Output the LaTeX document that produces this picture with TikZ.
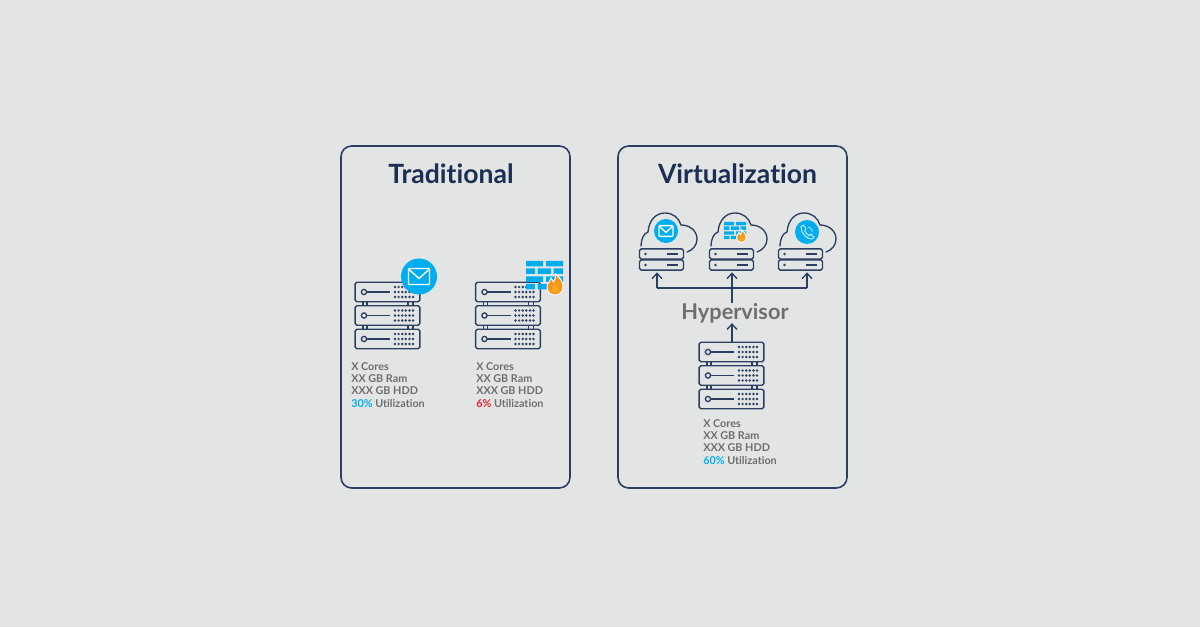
\documentclass[tikz,border=0pt]{standalone}
\usepackage{fontspec}
\setmainfont[Ligatures=NoCommon]{Lato}
\usetikzlibrary{arrows.meta}
\definecolor{bgc}{HTML}{E3E5E4}
\definecolor{navy}{HTML}{2B3F63}
\definecolor{titlec}{HTML}{1B2F55}
\definecolor{sky}{HTML}{00AEEF}
\definecolor{flame}{HTML}{F7941D}
\definecolor{greyt}{HTML}{6D6E71}
\definecolor{hot}{HTML}{ED1C24}
\tikzset{
  x=0.75pt,y=-0.75pt,
  card/.style={draw=navy,line width=1.2pt,rounded corners=8pt,minimum width=171.75pt,minimum height=256.5pt,inner sep=0pt},
  title/.style={font=\fontsize{19.9pt}{22pt}\selectfont\bfseries,text=titlec,inner sep=0pt},
  spec/.style={font=\fontsize{8.1pt}{9.3pt}\selectfont\bfseries,text=greyt,align=left,anchor=north west,inner sep=0pt},
  hv/.style={font=\fontsize{16.3pt}{18pt}\selectfont\bfseries,text=greyt,inner sep=0pt},
  unit/.style={draw=navy,line width=1.05pt,rounded corners=1.3pt,minimum width=48.6pt,inner sep=0pt,fill=none},
  unitbig/.style={unit,minimum height=14.6pt},
  unitsmall/.style={unit,minimum width=33pt,minimum height=7.6pt},
  detail/.style={draw=navy,line width=1pt},
  arr/.style={draw=navy,line width=1pt,-{Straight Barb[length=4pt,width=7.5pt,line width=1pt]}},
  plain/.style={draw=navy,line width=1pt},
  rack/.pic={
    \node[unitbig] (a) at (32.5,10) {};
    \node[unitbig] (b) at (32.5,33.5) {};
    \node[unitbig] (c) at (32.5,57) {};
    \foreach \yy in {10,33.5,57}{
      \draw[detail] (9,\yy) circle (2.6);
      \draw[detail] (11.6,\yy) -- (35,\yy);
      \foreach \ii in {0,1,2,3,4,5}\foreach \jj in {-5,0,5}
        \fill[navy] ({40+\ii*3.6},\yy+\jj) circle (1.35);
    }
    \foreach \xx in {8,12,53,58}{
      \draw[detail] (\xx,20) -- (\xx,23.5);
      \draw[detail] (\xx,43.5) -- (\xx,47);
    }
  },
  miniserver/.pic={
    \node[unitsmall] (a) at (22.5,5) {};
    \node[unitsmall] (b) at (22.5,16) {};
    \foreach \yy in {5,16}{
      \fill[navy] (6.5,\yy) circle (1.3);
      \draw[detail,line width=1.2pt] (28,\yy) -- (39,\yy);
    }
  },
  cloudline/.pic={
    \draw[plain,line cap=round] (0,33) .. controls (0,26) and (3,20) .. (7,19)
      .. controls (8,7) and (15,0) .. (24,0)
      .. controls (32,0) and (38,5) .. (40,12)
      .. controls (49,12) and (56,18) .. (56,26)
      .. controls (56,32) and (52,37) .. (46,39);
  },
  mailbadge/.pic={
    \fill[sky] (0,0) circle (18);
    \draw[white,line width=1pt,rounded corners=0.6pt] (-10.5,-8) rectangle (10.5,8);
    \draw[white,line width=1pt] (-10,-7) -- (0,2) -- (10,-7);
  },
  phonebadge/.pic={
    \fill[sky] (0,0) circle (12);
    \draw[white,line width=0.55pt,line join=round]
      (-6,-5.5) -- (-3.6,-7) -- (-1,-3) -- (-2.4,-1.2)
      .. controls (-1.4,1) and (0.8,3) .. (2.4,3.6)
      -- (4,2) -- (7,5.2) -- (5,7)
      .. controls (0,7.5) and (-6.5,1) .. (-6,-5.5) -- cycle;
    \draw[white,line width=0.45pt] (1,-5) .. controls (3.5,-4.5) and (5,-3) .. (5.5,-0.5);
  },
  firewall/.pic={
    \fill[sky] (0,0) rectangle (17,5.5) (20,0) rectangle (37,5.5);
    \fill[sky] (0,7.5) rectangle (9,13) (11.5,7.5) rectangle (25,13) (27.5,7.5) rectangle (37,13);
    \fill[sky] (0,15.5) rectangle (17,21) (20,15.5) rectangle (37,21);
    \fill[sky] (0,23) rectangle (9,28.5) (11.5,23) rectangle (21,28.5);
    \fill[flame,draw=white,line width=0.7pt]
      (29,34) .. controls (24,34) and (21,30) .. (21,26)
      .. controls (21,22) and (24,21) .. (25,17)
      .. controls (26,19) and (27,20) .. (27.5,21)
      .. controls (29,19) and (30,16) .. (29.5,13)
      .. controls (34,16) and (37,21) .. (37,26)
      .. controls (37,31) and (33,34) .. (29,34) -- cycle;
    \fill[flame!80!yellow] (29,32) .. controls (26,32) and (25,29) .. (26,27)
      .. controls (27,25) and (29,24) .. (29.5,22)
      .. controls (32,25) and (33,27) .. (33,28.5)
      .. controls (33,31) and (31,32) .. (29,32) -- cycle;
  },
}
\begin{document}
\begin{tikzpicture}
\useasboundingbox (0,0) rectangle (1200,627);
\fill[bgc] (0,0) rectangle (1200,627);

\node[card] (left) at (455.5,317) {};
\node[card] (right) at (732.5,317) {};
\node[title] (t1) at (451,174) {Traditional};
\node[title] (t2) at (737.5,174) {Virtualization};

% left panel
\pic (ra) at (355,282) {rack};
\pic (rb) at (475.5,282) {rack};
\pic at (419,276.5) {mailbadge};
\pic at (526,261) {firewall};
\node[spec] (sa) at (351,362) {X Cores\\XX GB Ram\\XXX GB HDD\\{\color{sky}30\%} Utilization};
\node[spec] (sb) at (476,362) {X Cores\\XX GB Ram\\XXX GB HDD\\{\color{hot}6\%} Utilization};

% right panel, clouds
\pic at (641,213) {cloudline};
\pic at (711,213) {cloudline};
\pic at (780,213) {cloudline};
\pic[scale=0.667] at (666,231) {mailbadge};
\pic[scale=0.6] at (724,222) {firewall};
\pic at (807,232) {phonebadge};
\pic (sx) at (639,249) {miniserver};
\pic (sy) at (709,249) {miniserver};
\pic (sz) at (778,249) {miniserver};

% hypervisor and lower rack
\node[hv] (hyp) at (735,313) {Hypervisor};
\pic (rc) at (699,342) {rack};
\node[spec] (sc) at (703,419) {X Cores\\XX GB Ram\\XXX GB HDD\\{\color{sky}60\%} Utilization};

% connectors
\coordinate (busL) at (657,288);
\coordinate (busM) at (732,288);
\coordinate (busR) at (807,288);
\draw[plain] (busL) -- (busR);
\draw[arr,shorten >=1.2pt] (busL) -- (busL |- sxb.south);
\draw[arr,shorten >=1.2pt] (busR) -- (busR |- szb.south);
\draw[arr,shorten >=1.2pt] (busM |- hyp.north) -- (busM |- syb.south);
\draw[arr] (busM |- rca.north) -- (busM |- hyp.south);
\end{tikzpicture}
\end{document}
